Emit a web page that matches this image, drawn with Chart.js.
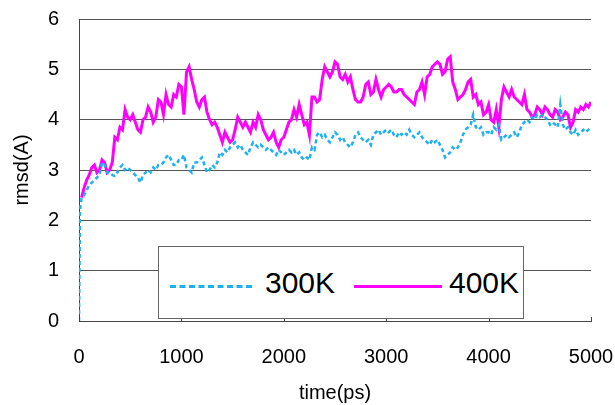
<!DOCTYPE html>
<html>
<head>
<meta charset="utf-8">
<script src="https://cdn.jsdelivr.net/npm/chart.js@4.4.1/dist/chart.umd.min.js"></script>
<style>
  body { margin: 0; background: #fff; }
  #wrap { position: relative; width: 615px; height: 405px; }
  #legend {
    position: absolute; left: 158px; top: 246px; width: 364px; height: 71px;
    border: 1px solid #666; background: #fff;
    font-family: "Liberation Sans", Arial, sans-serif; font-size: 30px; color: #000;
  }
  .item { position: absolute; top: 0; height: 71px; line-height: 71px; }
  .swatch { position: absolute; top: 38px; height: 0; }
</style>
</head>
<body>
<div id="wrap">
  <canvas id="rmsdChart" width="615" height="405"></canvas>
  <div id="legend">
    <div class="swatch" style="left:11px; width:82px; border-top:3px dashed #1db1f0;"></div>
    <div class="item" style="left:106px;">300K</div>
    <div class="swatch" style="left:195px; width:88px; border-top:3px solid #ff00ff;"></div>
    <div class="item" style="left:290px;">400K</div>
  </div>
</div>
<script>
// sample times (ps)
const times = [0, 10,
  25, 50, 75, 100, 125, 150, 175, 200, 225, 250, 275, 300, 325, 350, 375, 400, 425, 450, 475, 500,
  525, 550, 575, 600, 625, 650, 675, 700, 725, 750, 775, 800, 825, 850, 875, 900, 925, 950, 975, 1000,
  1025, 1050, 1075, 1100, 1125, 1150, 1175, 1200, 1225, 1250, 1275, 1300, 1325, 1350, 1375, 1400, 1425, 1450, 1475, 1500,
  1525, 1550, 1575, 1600, 1625, 1650, 1675, 1700, 1725, 1750, 1775, 1800, 1825, 1850, 1875, 1900, 1925, 1950, 1975, 2000,
  2025, 2050, 2075, 2100, 2125, 2150, 2175, 2200, 2225, 2250, 2275, 2300, 2325, 2350, 2375, 2400, 2425, 2450, 2475, 2500,
  2525, 2550, 2575, 2600, 2625, 2650, 2675, 2700, 2725, 2750, 2775, 2800, 2825, 2850, 2875, 2900, 2925, 2950, 2975, 3000,
  3025, 3050, 3075, 3100, 3125, 3150, 3175, 3200, 3225, 3250, 3275, 3300, 3325, 3350, 3375, 3400, 3425, 3450, 3475, 3500,
  3525, 3550, 3575, 3600, 3625, 3650, 3675, 3700, 3725, 3750, 3775, 3800, 3825, 3850, 3875, 3900, 3925, 3950, 3975, 4000,
  4025, 4050, 4075, 4100, 4125, 4150, 4175, 4200, 4225, 4250, 4275, 4300, 4325, 4350, 4375, 4400, 4425, 4450, 4475, 4500,
  4525, 4550, 4575, 4600, 4625, 4650, 4675, 4700, 4725, 4750, 4775, 4800, 4825, 4850, 4875, 4900, 4925, 4950, 4975, 5000];

// rmsd (A) at 300K
const rmsd300 = [0, 2.2,
  2.45, 2.5, 2.6, 2.7, 2.75, 2.8, 2.85, 2.9, 3.15, 3.1, 2.95, 2.95, 2.9, 2.88, 2.95, 3.05, 3.1, 3.0, 3.05, 3.0,
  2.95, 2.9, 2.85, 2.75, 2.9, 2.95, 3.0, 2.95, 3.05, 3.0, 3.1, 3.1, 3.15, 3.25, 3.3, 3.2, 3.1, 3.1, 3.2, 3.2,
  3.3, 3.05, 3.0, 2.95, 3.15, 3.15, 3.2, 3.25, 3.1, 2.95, 3.0, 3.1, 3.05, 3.15, 3.35, 3.3, 3.4, 3.35, 3.45, 3.5,
  3.55, 3.45, 3.5, 3.4, 3.35, 3.3, 3.45, 3.55, 3.5, 3.45, 3.5, 3.45, 3.4, 3.45, 3.4, 3.35, 3.3, 3.4, 3.35, 3.3,
  3.35, 3.4, 3.35, 3.4, 3.3, 3.35, 3.25, 3.2, 3.25, 3.2, 3.45, 3.4, 3.7, 3.75, 3.65, 3.7, 3.6, 3.55, 3.65, 3.75,
  3.7, 3.6, 3.65, 3.55, 3.5, 3.45, 3.55, 3.7, 3.75, 3.65, 3.6, 3.55, 3.6, 3.5, 3.7, 3.75, 3.8, 3.7, 3.75, 3.8,
  3.75, 3.8, 3.7, 3.65, 3.75, 3.7, 3.75, 3.7, 3.8, 3.7, 3.65, 3.7, 3.75, 3.65, 3.6, 3.55, 3.5, 3.6, 3.55, 3.6,
  3.5, 3.4, 3.25, 3.3, 3.35, 3.45, 3.4, 3.45, 3.55, 3.7, 3.8, 3.85, 3.9, 4.1, 3.85, 3.8, 3.85, 3.7, 3.75, 3.75,
  3.7, 3.85, 3.8, 3.9, 3.6, 3.65, 3.7, 3.65, 3.7, 3.75, 3.65, 3.75, 3.9, 3.95, 4.0, 3.95, 4.05, 4.0, 4.1, 4.05,
  4.1, 4.05, 4.0, 3.9, 3.95, 3.9, 3.85, 4.3, 3.9, 3.8, 3.85, 3.75, 3.7, 3.8, 3.7, 3.75, 3.8, 3.75, 3.8, 3.85];

// rmsd (A) at 400K
const rmsd400 = [null, null,
  2.45, 2.65, 2.8, 2.9, 3.05, 3.1, 2.95, 3.0, 3.2, 3.15, 2.95, 3.0, 3.15, 3.65, 3.6, 3.85, 3.8, 4.2, 4.05, 4.0,
  4.1, 3.95, 3.8, 3.75, 4.0, 4.05, 4.25, 4.15, 3.95, 4.05, 4.4, 4.35, 4.1, 4.5, 4.3, 4.25, 4.5, 4.45, 4.7, 4.65,
  4.1, 4.95, 5.05, 4.8, 4.6, 4.35, 4.25, 4.4, 4.45, 4.15, 4.0, 3.9, 3.95, 3.85, 3.7, 3.55, 3.75, 3.65, 3.55, 3.6,
  3.8, 4.05, 3.95, 3.85, 3.95, 3.85, 3.75, 3.95, 3.85, 4.1, 4.0, 3.8, 3.7, 3.6, 3.65, 3.75, 3.55, 3.45, 3.6, 3.65,
  3.8, 3.95, 4.0, 4.2, 4.05, 4.3, 4.1, 3.9, 3.95, 3.7, 4.45, 4.45, 4.35, 4.4, 4.8, 5.05, 4.95, 4.85, 4.95, 5.15,
  5.1, 4.85, 4.8, 4.9, 4.75, 4.85, 4.6, 4.4, 4.35, 4.35, 4.45, 4.7, 4.75, 4.5, 4.55, 4.8, 4.6, 4.45, 4.6, 4.65,
  4.7, 4.65, 4.55, 4.55, 4.6, 4.6, 4.5, 4.45, 4.4, 4.35, 4.3, 4.55, 4.6, 4.75, 4.5, 4.85, 4.9, 5.05, 5.1, 5.15,
  5.1, 4.9, 4.95, 5.2, 5.25, 4.75, 4.6, 4.4, 4.45, 4.5, 4.6, 4.75, 4.8, 4.45, 4.5, 4.3, 4.35, 4.1, 4.15, 4.3,
  4.0, 3.95, 4.2, 3.85, 4.4, 4.65, 4.55, 4.45, 4.6, 4.45, 4.4, 4.35, 4.3, 4.5, 4.2, 4.15, 4.05, 4.1, 4.25, 4.2,
  4.1, 4.25, 4.2, 4.1, 4.05, 4.2, 4.15, 4.0, 4.05, 4.15, 4.1, 3.85, 3.95, 4.2, 4.15, 4.25, 4.2, 4.3, 4.25, 4.35];

const xTicks = [0, 1000, 2000, 3000, 4000, 5000];
const yTicks = [0, 1, 2, 3, 4, 5, 6];

const toPoints = vals => times.map((t, i) => ({ x: t, y: vals[i] }));

// small tick marks pointing up into the plot from the x axis
const innerTicks = {
  id: 'innerTicks',
  afterDraw(chart) {
    const ctx = chart.ctx;
    const x = chart.scales.x;
    const y0 = chart.scales.y.getPixelForValue(0);
    ctx.save();
    ctx.strokeStyle = '#444';
    ctx.lineWidth = 1;
    xTicks.forEach(v => {
      const px = Math.round(x.getPixelForValue(v)) + 0.5;
      ctx.beginPath();
      ctx.moveTo(px, y0);
      ctx.lineTo(px, y0 - 4);
      ctx.stroke();
    });
    ctx.restore();
  }
};

const font = { family: '"Liberation Sans", Arial, sans-serif', size: 20 };

new Chart(document.getElementById('rmsdChart'), {
  type: 'line',
  data: {
    datasets: [
      {
        label: '300K',
        data: toPoints(rmsd300),
        borderColor: '#1db1f0',
        borderWidth: 2.5,
        borderDash: [4, 3],
        pointRadius: 0,
        tension: 0
      },
      {
        label: '400K',
        data: toPoints(rmsd400),
        borderColor: '#ff00ff',
        borderWidth: 3,
        pointRadius: 0,
        tension: 0
      }
    ]
  },
  plugins: [innerTicks],
  options: {
    responsive: false,
    animation: false,
    layout: { padding: { top: 19, right: 24, left: 0, bottom: 0 } },
    plugins: {
      legend: { display: false },
      tooltip: { enabled: false }
    },
    scales: {
      x: {
        type: 'linear',
        min: 0,
        max: 5000,
        afterBuildTicks: s => { s.ticks = xTicks.map(v => ({ value: v })); },
        afterFit: s => { s.height = 84; s.paddingLeft = 0; s.paddingRight = 0; },
        grid: { display: false, drawTicks: false },
        border: { display: true, color: '#444', width: 1 },
        ticks: { font: font, color: '#000', padding: 24, maxRotation: 0, callback: v => String(v) },
        title: { display: true, text: 'time(ps)', font: font, color: '#000', padding: { top: 14, bottom: 0 } }
      },
      y: {
        min: 0,
        max: 6,
        afterBuildTicks: s => { s.ticks = yTicks.map(v => ({ value: v })); },
        afterFit: s => { s.width = 79; s.paddingTop = 0; s.paddingBottom = 0; },
        grid: { color: '#555', drawTicks: false },
        border: { display: true, color: '#444', width: 1 },
        ticks: { font: font, color: '#000', padding: 20, callback: v => String(v) },
        title: { display: true, text: 'rmsd(A)', font: font, color: '#000', padding: { top: 10, bottom: 6 } }
      }
    }
  }
});
</script>
</body>
</html>
